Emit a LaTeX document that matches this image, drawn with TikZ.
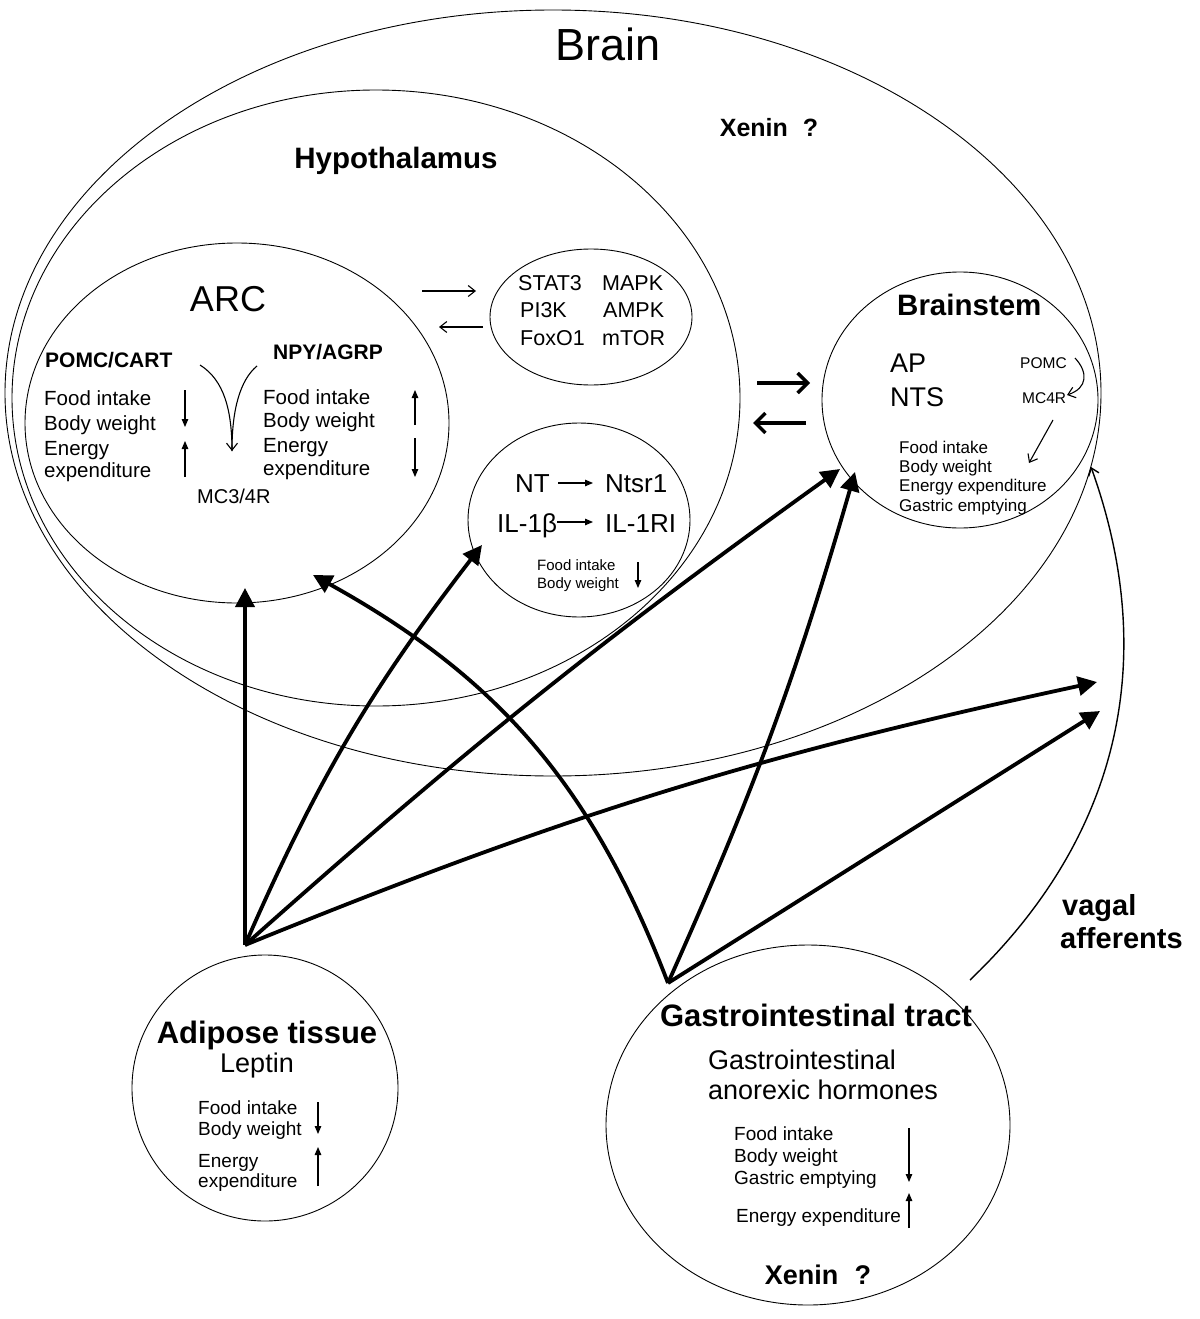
\documentclass[tikz,border=0pt]{standalone}
\usepackage{fontspec}
\setmainfont{Liberation Sans}
\usetikzlibrary{arrows.meta,shapes.geometric}
\newcommand{\myfs}[1]{\fontsize{#1}{#1}\selectfont}
\begin{document}
\begin{tikzpicture}[x=1pt,y=1pt,
 ell/.style={draw, ellipse, line width=0.9pt, inner sep=0pt},
 tx/.style={inner sep=0pt, anchor=base west},
 tc/.style={inner sep=0pt, anchor=base},
 big/.style={line width=3.8pt, -{Triangle[length=19pt,width=19pt]}},
 sm/.style={line width=1.1pt, -{Triangle[length=8pt,width=6.5pt]}},
 barb/.style={line width=1.1pt, -{Straight Barb[length=7pt,width=11pt]}},
 dbl/.style={line width=3.5pt, -{Straight Barb[length=10pt,width=20pt]}},
]
\useasboundingbox (0,0) rectangle (1199,-1319);
\fill[white] (0,0) rectangle (1199,-1319);

% ---- regions
\node[ell, minimum width=1096pt, minimum height=766pt] (brain) at (553,-393) {};
\node[ell, minimum width=728pt, minimum height=616pt] (hyp) at (376,-398) {};
\node[ell, minimum width=424pt, minimum height=360pt] (arc) at (237,-423) {};
\node[ell, minimum width=202pt, minimum height=136pt] (sig) at (591,-317) {};
\node[ell, minimum width=222pt, minimum height=194pt] (nt) at (579,-520) {};
\node[ell, minimum width=276pt, minimum height=256pt] (bs) at (960,-400) {};
\node[ell, minimum width=266pt, minimum height=266pt] (adi) at (265,-1088) {};
\node[ell, minimum width=404pt, minimum height=360pt] (gi) at (808,-1125) {};

% ---- titles
\node[tc, font=\myfs{45}] (tBrain) at (608,-61) {Brain};
\node[tc, font=\myfs{25}\bfseries] (tXen1) at (769,-136) {Xenin\hspace{0.6em}?};
\node[tc, font=\myfs{29.5}\bfseries] (tHyp) at (396,-168) {Hypothalamus};
\node[tc, font=\myfs{36}] (tArc) at (228,-311) {ARC};

% ---- ARC content
\node[tx, font=\myfs{21}\bfseries] (tPomc) at (45,-367) {POMC/CART};
\node[tx, font=\myfs{21}\bfseries] (tNpy) at (273,-359) {NPY/AGRP};
\node[tx, font=\myfs{20.5}] (a1) at (44,-405) {Food intake};
\node[tx, font=\myfs{20.5}] (a2) at (44,-430) {Body weight};
\node[tx, font=\myfs{20.5}] (a3) at (44,-455) {Energy};
\node[tx, font=\myfs{20.5}] (a4) at (44,-477) {expenditure};
\node[tx, font=\myfs{20.5}] (b1) at (263,-404) {Food intake};
\node[tx, font=\myfs{20.5}] (b2) at (263,-427) {Body weight};
\node[tx, font=\myfs{20.5}] (b3) at (263,-452) {Energy};
\node[tx, font=\myfs{20.5}] (b4) at (263,-475) {expenditure};
\node[tx, font=\myfs{20}] (tMc34) at (197,-503) {MC3/4R};

\coordinate (pa1) at (185,-390); \coordinate (pa2) at (185,-427);
\coordinate (pa3) at (185,-477); \coordinate (pa4) at (185,-441);
\draw[sm] (pa1) -- (pa2);
\draw[sm] (pa3) -- (pa4);
\coordinate (pb1) at (415,-425); \coordinate (pb2) at (415,-390);
\coordinate (pb3) at (415,-438); \coordinate (pb4) at (415,-477);
\draw[sm] (pb1) -- (pb2);
\draw[sm] (pb3) -- (pb4);

\coordinate (vL) at (200,-365); \coordinate (vR) at (257,-366); \coordinate (vT) at (232,-451);
\draw[line width=1.1pt] (vL) .. controls (224,-380) and (232,-410) .. (vT);
\draw[barb] (vR) .. controls (240,-380) and (232,-410) .. (vT);

% ---- signalling ellipse
\node[tx, font=\myfs{21.5}] (s1) at (518,-290) {STAT3};
\node[tx, font=\myfs{21.5}] (s2) at (520,-317) {PI3K};
\node[tx, font=\myfs{21.5}] (s3) at (520,-345) {FoxO1};
\node[tx, font=\myfs{21.5}] (s4) at (602,-290) {MAPK};
\node[tx, font=\myfs{21.5}] (s5) at (603,-317) {AMPK};
\node[tx, font=\myfs{21.5}] (s6) at (602,-345) {mTOR};
\coordinate (sa1) at (422,-291); \coordinate (sa2) at (476,-291);
\coordinate (sa3) at (483,-327); \coordinate (sa4) at (439,-327);
\draw[barb] (sa1) -- (sa2);
\draw[barb] (sa3) -- (sa4);

% ---- NT circle
\node[tx, font=\myfs{26}] (n1) at (515,-492) {NT};
\node[tx, font=\myfs{26}] (n2) at (605,-492) {Ntsr1};
\node[tx, font=\myfs{26}] (n3) at (497,-532) {IL-1β};
\node[tx, font=\myfs{26}] (n4) at (605,-532) {IL-1RI};
\coordinate (na1) at (558,-483); \coordinate (na2) at (593,-483);
\draw[sm] (na1) -- (na2);
\coordinate (nb1) at (557,-522); \coordinate (nb2) at (593,-522);
\draw[sm] (nb1) -- (nb2);
\node[tx, font=\myfs{15}] (n5) at (537,-570) {Food intake};
\node[tx, font=\myfs{15}] (n6) at (537,-588) {Body weight};
\coordinate (nc1) at (638,-562); \coordinate (nc2) at (638,-588);
\draw[sm] (nc1) -- (nc2);

% ---- brainstem
\node[tx, font=\myfs{29.5}\bfseries] (tBs) at (897,-315) {Brainstem};
\node[tx, font=\myfs{27}] (tAp) at (890,-372) {AP};
\node[tx, font=\myfs{27}] (tNts) at (890,-406) {NTS};
\node[tx, font=\myfs{15.5}] (tPomc2) at (1020,-368) {POMC};
\node[tx, font=\myfs{15.5}] (tMc4) at (1022,-403) {MC4R};
\node[tx, font=\myfs{17}] (c1) at (899,-453) {Food intake};
\node[tx, font=\myfs{17}] (c2) at (899,-472) {Body weight};
\node[tx, font=\myfs{17}] (c3) at (899,-491) {Energy expenditure};
\node[tx, font=\myfs{17}] (c4) at (899,-511) {Gastric emptying};
\coordinate (ca1) at (1075,-358); \coordinate (ca2) at (1067,-395);
\draw[barb] (ca1) .. controls (1088,-372) and (1088,-388) .. (ca2);
\coordinate (cb1) at (1053,-420); \coordinate (cb2) at (1029,-463);
\draw[barb] (cb1) -- (cb2);

% ---- hypothalamus <-> brainstem
\coordinate (h1) at (757,-383); \coordinate (h2) at (810,-383);
\coordinate (h3) at (806,-423); \coordinate (h4) at (753,-423);
\draw[dbl] (h1) -- (h2);
\draw[dbl] (h3) -- (h4);

% ---- adipose tissue
\node[tc, font=\myfs{31}\bfseries] (tAdi) at (267,-1043) {Adipose tissue};
\node[tc, font=\myfs{27}] (tLep) at (257,-1072) {Leptin};
\node[tx, font=\myfs{19}] (d1) at (198,-1114) {Food intake};
\node[tx, font=\myfs{19}] (d2) at (198,-1135) {Body weight};
\node[tx, font=\myfs{19}] (d3) at (198,-1167) {Energy};
\node[tx, font=\myfs{19}] (d4) at (198,-1187) {expenditure};
\coordinate (da1) at (318,-1102); \coordinate (da2) at (318,-1134);
\coordinate (da3) at (318,-1186); \coordinate (da4) at (318,-1147);
\draw[sm] (da1) -- (da2);
\draw[sm] (da3) -- (da4);

% ---- gastrointestinal tract
\node[tc, font=\myfs{31}\bfseries] (tGi) at (816,-1026) {Gastrointestinal tract};
\node[tx, font=\myfs{27}] (g1) at (708,-1069) {Gastrointestinal};
\node[tx, font=\myfs{27}] (g2) at (708,-1099) {anorexic hormones};
\node[tx, font=\myfs{19}] (e1) at (734,-1140) {Food intake};
\node[tx, font=\myfs{19}] (e2) at (734,-1162) {Body weight};
\node[tx, font=\myfs{19}] (e3) at (734,-1184) {Gastric emptying};
\node[tx, font=\myfs{19}] (e4) at (736,-1222) {Energy expenditure};
\coordinate (ea1) at (909,-1128); \coordinate (ea2) at (909,-1182);
\coordinate (ea3) at (909,-1228); \coordinate (ea4) at (909,-1193);
\draw[sm] (ea1) -- (ea2);
\draw[sm] (ea3) -- (ea4);
\node[tc, font=\myfs{27}\bfseries] (tXen2) at (818,-1284) {Xenin\hspace{0.6em}?};

% ---- vagal afferents
\node[tx, font=\myfs{29}\bfseries] (tVag1) at (1062,-915) {vagal};
\node[tx, font=\myfs{29}\bfseries] (tVag2) at (1060,-948) {afferents};

% ---- thick connectors
\coordinate (adiO) at (245,-945);
\coordinate (giO) at (668,-983);
\coordinate (tARC) at (245,-588);
\coordinate (tNT) at (482,-545);
\coordinate (tBS1) at (840,-469);
\coordinate (tV1) at (1097,-682);
\coordinate (tARC2) at (313,-575);
\coordinate (tBS2) at (855,-472);
\coordinate (tV2) at (1100,-711);
\coordinate (vagS) at (970,-980);
\coordinate (tBSv) at (1091,-467);

\draw[big] (adiO) -- (tARC);
\draw[big] (adiO) to[bend left=7] (tNT);
\draw[big] (adiO) to[bend left=3] (tBS1);
\draw[big] (adiO) to[bend left=5] (tV1);
\draw[big] (giO) to[bend right=20] (tARC2);
\draw[big] (giO) to[bend right=4] (tBS2);
\draw[big] (giO) -- (tV2);
\draw[barb, line width=1.4pt] (vagS) to[bend right=33] (tBSv);
\end{tikzpicture}
\end{document}
